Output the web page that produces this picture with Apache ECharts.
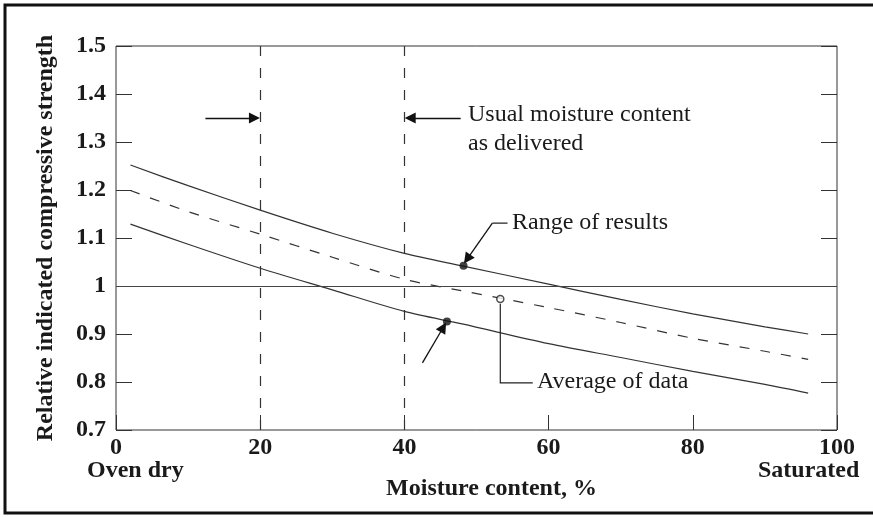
<!DOCTYPE html>
<html>
<head>
<meta charset="utf-8">
<script src="https://cdn.jsdelivr.net/npm/echarts@6/dist/echarts.min.js"></script>
<style>
  html, body { margin: 0; padding: 0; background: #fff; }
  #chart { width: 873px; height: 517px; }
</style>
</head>
<body>
<div id="chart"></div>
<script>
var moisture = [2, 10, 20, 30, 40, 48, 60, 70, 80, 90, 96];
var upperRange = [1.252, 1.209, 1.158, 1.110, 1.068, 1.042, 1.004, 0.972, 0.942, 0.915, 0.900];
var averageData = [1.199, 1.155, 1.108, 1.060, 1.014, 0.990, 0.955, 0.924, 0.891, 0.864, 0.847];
var lowerRange = [1.129, 1.087, 1.037, 0.992, 0.947, 0.921, 0.880, 0.851, 0.822, 0.795, 0.777];

var refX = [20, 40];
var refY = [1];
var dotPoints = [[48.2, 1.042], [45.9, 0.926]];
var openPoint = [[53.3, 0.973]];

// annotation arrows and leader lines, in data units
var arrowSegments = [
    [[12.4, 1.35], [19.2, 1.35]],
    [[47.8, 1.35], [40.8, 1.35]],
    [[52.2, 1.131], [48.7, 1.056]],
    [[42.5, 0.840], [45.4, 0.914]]
];
var leaderPolylines = [
    [[54.3, 1.131], [52.2, 1.131]],
    [[53.3, 0.963], [53.3, 0.798], [57.8, 0.798]]
];

var font = "'Liberation Serif', 'Times New Roman', serif";
var ink = '#1a1a1a';

function pairs(xs, ys) {
    return xs.map(function (x, i) { return [x, ys[i]]; });
}
function toLines(list) {
    return list.map(function (c) { return { coords: c }; });
}

var chart = echarts.init(document.getElementById('chart'));
var option = {
    animation: false,
    backgroundColor: '#fff',
    grid: {
        left: 116, right: 36, top: 46, bottom: 87,
        show: true, borderColor: '#333', borderWidth: 1,
        outerBoundsMode: 'none'
    },
    xAxis: {
        type: 'value', min: 0, max: 100, interval: 20,
        name: 'Moisture content, %', nameLocation: 'middle', nameGap: 47,
        nameTextStyle: { fontFamily: font, fontWeight: 'bold', fontSize: 24, color: ink, padding: [0, 0, 0, 30] },
        axisLine: { show: false },
        axisTick: { show: true, inside: true, length: 15, lineStyle: { color: '#333' } },
        axisLabel: { fontFamily: font, fontWeight: 'bold', fontSize: 24, color: ink, margin: 6 },
        splitLine: { show: false }
    },
    yAxis: [{
        type: 'value', min: 0.7, max: 1.5, interval: 0.1,
        name: 'Relative indicated compressive strength', nameLocation: 'middle', nameGap: 58,
        nameTextStyle: { fontFamily: font, fontWeight: 'bold', fontSize: 24, color: ink },
        axisLine: { show: false },
        axisTick: { show: true, inside: true, length: 16, lineStyle: { color: '#333' } },
        axisLabel: {
            fontFamily: font, fontWeight: 'bold', fontSize: 24, color: ink, margin: 10,
            formatter: function (v) { return String(+v.toFixed(1)); }
        },
        splitLine: { show: false }
    }, {
        type: 'value', min: 0.7, max: 1.5, interval: 0.1, position: 'right',
        axisLine: { show: false },
        axisTick: { show: true, inside: true, length: 16, lineStyle: { color: '#333' } },
        axisLabel: { show: false },
        splitLine: { show: false }
    }],
    series: [
        {
            name: 'upper', type: 'line', smooth: 0.3, showSymbol: false,
            data: pairs(moisture, upperRange),
            lineStyle: { color: '#333', width: 1.2 },
            markLine: {
                silent: true, symbol: ['none', 'none'], label: { show: false },
                data: refX.map(function (v) {
                    return { xAxis: v, lineStyle: { type: [10, 12], color: '#333', width: 1.2 } };
                }).concat(refY.map(function (v) {
                    return { yAxis: v, lineStyle: { type: 'solid', color: '#444', width: 1.2 } };
                }))
            }
        },
        {
            name: 'average', type: 'line', smooth: 0.3, showSymbol: false,
            data: pairs(moisture, averageData),
            lineStyle: { color: '#333', width: 1.2, type: [10, 11] }
        },
        {
            name: 'lower', type: 'line', smooth: 0.3, showSymbol: false,
            data: pairs(moisture, lowerRange),
            lineStyle: { color: '#333', width: 1.2 }
        },
        {
            type: 'scatter', data: dotPoints, symbolSize: 8,
            itemStyle: { color: '#111' }, z: 5
        },
        {
            type: 'scatter', data: openPoint, symbolSize: 7,
            itemStyle: { color: '#fff', borderColor: '#222', borderWidth: 1.5 }, z: 5
        },
        {
            type: 'lines', coordinateSystem: 'cartesian2d',
            symbol: ['none', 'triangle'], symbolSize: 11,
            lineStyle: { color: '#111', width: 1.3, opacity: 1, curveness: 0 },
            data: toLines(arrowSegments), z: 6
        },
        {
            type: 'lines', coordinateSystem: 'cartesian2d', polyline: true,
            lineStyle: { color: '#222', width: 1.2, opacity: 1 },
            data: toLines(leaderPolylines), z: 6
        }
    ],
    graphic: [
        { type: 'rect', shape: { x: 5, y: 5, width: 900, height: 508 },
          style: { fill: 'none', stroke: '#111', lineWidth: 3 }, z: 100 },
        { type: 'text', x: 468, y: 115,
          style: { text: 'Usual moisture content', font: '24px ' + font, fill: ink, verticalAlign: 'middle' } },
        { type: 'text', x: 468, y: 144,
          style: { text: 'as delivered', font: '24px ' + font, fill: ink, verticalAlign: 'middle' } },
        { type: 'text', x: 512, y: 223,
          style: { text: 'Range of results', font: '24px ' + font, fill: ink, verticalAlign: 'middle' } },
        { type: 'text', x: 537, y: 382,
          style: { text: 'Average of data', font: '24px ' + font, fill: ink, verticalAlign: 'middle' } },
        { type: 'text', x: 87, y: 471,
          style: { text: 'Oven dry', font: 'bold 24px ' + font, fill: ink, verticalAlign: 'middle' } },
        { type: 'text', x: 758, y: 471,
          style: { text: 'Saturated', font: 'bold 24px ' + font, fill: ink, verticalAlign: 'middle' } }
    ]
};
chart.setOption(option);
</script>
</body>
</html>
